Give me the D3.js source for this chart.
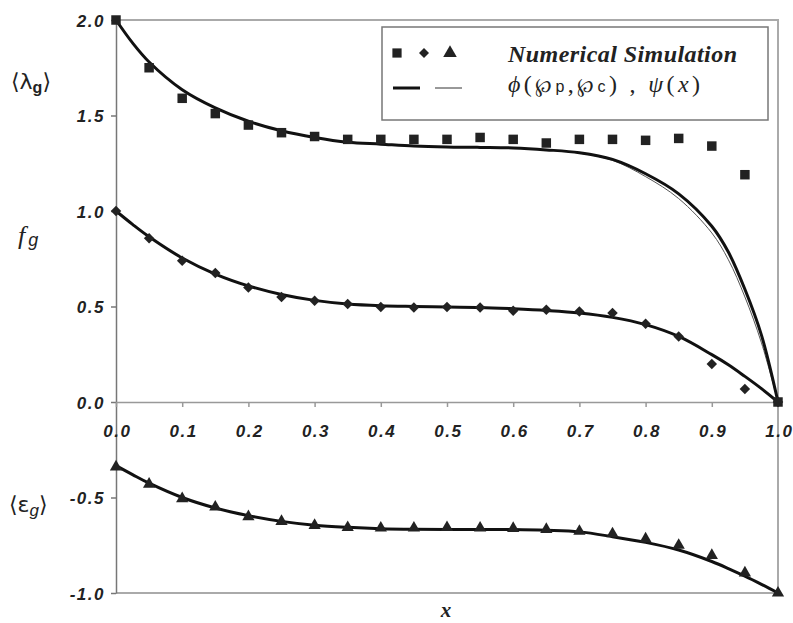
<!DOCTYPE html>
<html>
<head>
<meta charset="utf-8">
<script src="https://cdn.jsdelivr.net/npm/d3@7"></script>
<style>
  body { margin: 0; background: #fff; }
  svg { display: block; }
  .tick text { font-family: "Liberation Sans", Arial, sans-serif; font-weight: bold; font-style: italic; font-size: 17px; fill: #222; letter-spacing: 1.5px; }
</style>
</head>
<body>
<div id="chart"></div>
<script>
// simulation points
var xSim = [0, 0.05, 0.1, 0.15, 0.2, 0.25, 0.3, 0.35, 0.4, 0.45, 0.5, 0.55, 0.6, 0.65, 0.7, 0.75, 0.8, 0.85, 0.9, 0.95, 1.0];
var lambdaSim = [2.0, 1.75, 1.59, 1.51, 1.45, 1.41, 1.39, 1.375, 1.375, 1.375, 1.375, 1.385, 1.375, 1.356, 1.375, 1.375, 1.37, 1.38, 1.34, 1.19, 0];
var fSim = [1.0, 0.857, 0.74, 0.675, 0.60, 0.55, 0.53, 0.513, 0.497, 0.495, 0.497, 0.495, 0.478, 0.483, 0.474, 0.466, 0.41, 0.343, 0.199, 0.068, 0];
var epsSim = [-0.34, -0.43, -0.506, -0.55, -0.60, -0.625, -0.646, -0.657, -0.66, -0.66, -0.657, -0.66, -0.662, -0.667, -0.677, -0.69, -0.717, -0.75, -0.803, -0.895, -1.0];

// model curves
var xFit = [0, 0.025, 0.05, 0.1, 0.15, 0.2, 0.25, 0.3, 0.35, 0.4, 0.45, 0.5, 0.55, 0.6, 0.65, 0.7, 0.75, 0.8, 0.85, 0.9, 0.925, 0.95, 0.975, 1.0];
var lambdaFit = [2.0, 1.88, 1.78, 1.635, 1.54, 1.47, 1.42, 1.385, 1.36, 1.35, 1.34, 1.335, 1.333, 1.33, 1.32, 1.305, 1.27, 1.195, 1.09, 0.92, 0.785, 0.59, 0.35, 0];
var lambdaFitThin = [2.0, 1.88, 1.78, 1.635, 1.54, 1.47, 1.42, 1.385, 1.36, 1.35, 1.34, 1.335, 1.333, 1.33, 1.32, 1.303, 1.265, 1.18, 1.065, 0.885, 0.745, 0.55, 0.31, 0];
var fFit = [1.0, 0.93, 0.865, 0.754, 0.67, 0.608, 0.563, 0.532, 0.513, 0.504, 0.5, 0.497, 0.495, 0.488, 0.479, 0.466, 0.443, 0.405, 0.343, 0.248, 0.195, 0.134, 0.07, 0];
var epsFit = [-0.333, -0.38, -0.425, -0.5, -0.555, -0.595, -0.625, -0.645, -0.656, -0.663, -0.666, -0.667, -0.667, -0.668, -0.672, -0.68, -0.705, -0.735, -0.775, -0.835, -0.872, -0.912, -0.955, -1.0];

var xTicks = [0, 0.1, 0.2, 0.3, 0.4, 0.5, 0.6, 0.7, 0.8, 0.9, 1.0];
var yTicks = [-1.0, -0.5, 0.0, 0.5, 1.0, 1.5, 2.0];

(function() {
  var width = 793, height = 623;
  var plot = {left: 116, right: 778, top: 20, bottom: 593};

  var svg = d3.select("#chart").append("svg")
      .attr("width", width)
      .attr("height", height);

  var x = d3.scaleLinear().domain([0, 1]).range([plot.left, plot.right]);
  var y = d3.scaleLinear().domain([-1, 2]).range([plot.bottom, plot.top]);

  // frame
  svg.append("path")
      .attr("d", "M" + plot.left + "," + plot.top + "H" + plot.right + "V" + plot.bottom + "H" + plot.left)
      .attr("fill", "none")
      .attr("stroke", "#aaa")
      .attr("stroke-width", 2);

  // y axis
  var yAxis = svg.append("g")
      .attr("transform", "translate(" + plot.left + ",0)")
      .call(d3.axisLeft(y).tickValues(yTicks).tickSize(5).tickSizeOuter(0)
        .tickFormat(function(d) { return d.toFixed(1); }));
  yAxis.select(".domain").attr("stroke", "#777").attr("stroke-width", 1.5);
  yAxis.selectAll(".tick line").attr("stroke", "#777").attr("stroke-width", 1.5);
  yAxis.selectAll(".tick text").attr("x", -11).attr("dy", "0.36em");

  // x axis along zero
  var xAxis = svg.append("g")
      .attr("transform", "translate(0," + y(0) + ")")
      .call(d3.axisBottom(x).tickValues(xTicks).tickSize(5).tickSizeOuter(0)
        .tickFormat(function(d) { return d.toFixed(1); }));
  xAxis.select(".domain").attr("stroke", "#999").attr("stroke-width", 1.5);
  xAxis.selectAll(".tick line").attr("stroke", "#999").attr("stroke-width", 1.5);
  xAxis.selectAll(".tick text").attr("y", 23).attr("dy", "0.71em").attr("dx", "0.05em");

  // curves
  var line = d3.line()
      .x(function(d) { return x(d[0]); })
      .y(function(d) { return y(d[1]); })
      .curve(d3.curveCatmullRom.alpha(0.5));

  function pairs(xs, ys) { return xs.map(function(v, i) { return [v, ys[i]]; }); }

  svg.append("path").datum(pairs(xFit, lambdaFitThin))
      .attr("d", line).attr("fill", "none").attr("stroke", "#555").attr("stroke-width", 1);
  [lambdaFit, fFit, epsFit].forEach(function(s) {
    svg.append("path").datum(pairs(xFit, s))
        .attr("d", line).attr("fill", "none").attr("stroke", "#111").attr("stroke-width", 3);
  });

  // markers
  var mark = "#222";
  svg.selectAll(".sq").data(pairs(xSim, lambdaSim)).enter().append("path")
      .attr("class", "sq")
      .attr("transform", function(d) { return "translate(" + x(d[0]) + "," + y(d[1]) + ")"; })
      .attr("d", d3.symbol(d3.symbolSquare, 90))
      .attr("fill", mark);
  svg.selectAll(".dm").data(pairs(xSim, fSim)).enter().append("path")
      .attr("class", "dm")
      .attr("transform", function(d) { return "translate(" + x(d[0]) + "," + y(d[1]) + ") rotate(45)"; })
      .attr("d", d3.symbol(d3.symbolSquare, 55))
      .attr("fill", mark);
  svg.selectAll(".tr").data(pairs(xSim, epsSim)).enter().append("path")
      .attr("class", "tr")
      .attr("transform", function(d) { return "translate(" + x(d[0]) + "," + y(d[1]) + ")"; })
      .attr("d", d3.symbol(d3.symbolTriangle, 65))
      .attr("fill", mark);

  // legend
  var lg = svg.append("g");
  lg.append("rect")
      .attr("x", 382).attr("y", 27).attr("width", 386).attr("height", 93)
      .attr("fill", "#fff").attr("stroke", "#777").attr("stroke-width", 1.5);
  lg.append("path").attr("transform", "translate(397,53)").attr("d", d3.symbol(d3.symbolSquare, 85)).attr("fill", mark);
  lg.append("path").attr("transform", "translate(424,53) rotate(45)").attr("d", d3.symbol(d3.symbolSquare, 50)).attr("fill", mark);
  lg.append("path").attr("transform", "translate(450,53)").attr("d", d3.symbol(d3.symbolTriangle, 80)).attr("fill", mark);
  lg.append("line").attr("x1", 393).attr("x2", 420).attr("y1", 88).attr("y2", 88).attr("stroke", "#111").attr("stroke-width", 3);
  lg.append("line").attr("x1", 435).attr("x2", 462).attr("y1", 88).attr("y2", 88).attr("stroke", "#333").attr("stroke-width", 1);

  lg.append("text")
      .attr("x", 508).attr("y", 62)
      .attr("textLength", 229).attr("lengthAdjust", "spacing")
      .style("font-family", "'Liberation Serif', 'Times New Roman', serif")
      .style("font-weight", "bold").style("font-style", "italic")
      .style("font-size", "24px").style("fill", "#222")
      .text("Numerical Simulation");

  var serif = "'Liberation Serif', 'Times New Roman', serif";
  var sans = "'Liberation Sans', Arial, sans-serif";
  var f2 = lg.append("text")
      .attr("x", 508).attr("y", 92)
      .attr("textLength", 192).attr("lengthAdjust", "spacing")
      .style("font-family", serif)
      .style("font-size", "24px").style("fill", "#222");
  f2.append("tspan").style("font-style", "italic").text("\u03D5");
  f2.append("tspan").text("(");
  f2.append("tspan").style("font-family", "'DejaVu Serif', serif").style("font-size", "20px").text("\u2118");
  f2.append("tspan").style("font-family", sans).style("font-size", "16px").text("p");
  f2.append("tspan").text(",");
  f2.append("tspan").style("font-family", "'DejaVu Serif', serif").style("font-size", "20px").text("\u2118");
  f2.append("tspan").style("font-family", sans).style("font-size", "16px").text("c");
  f2.append("tspan").text(") , ");
  f2.append("tspan").style("font-style", "italic").text("\u03C8");
  f2.append("tspan").text("(");
  f2.append("tspan").style("font-style", "italic").text("x");
  f2.append("tspan").text(")");

  // axis titles
  var lam = svg.append("text").attr("x", 11).attr("y", 89)
      .style("font-family", "'DejaVu Sans', sans-serif").style("font-size", "22px").style("fill", "#222");
  lam.append("tspan").text("\u27E8\u03BB");
  lam.append("tspan").attr("dy", 4).style("font-size", "16px").style("font-family", sans).style("font-weight", "bold").text("g");
  lam.append("tspan").attr("dy", -4).text("\u27E9");

  var fg = svg.append("text").attr("x", 18).attr("y", 244)
      .style("font-family", serif).style("font-style", "italic")
      .style("font-size", "26px").style("fill", "#222");
  fg.append("tspan").text("f");
  fg.append("tspan").attr("dx", 3).attr("dy", 2).style("font-family", sans).style("font-size", "18px").text("g");

  var eps = svg.append("text").attr("x", 9).attr("y", 512)
      .style("font-family", "'DejaVu Sans', sans-serif").style("font-size", "22px").style("fill", "#222");
  eps.append("tspan").text("\u27E8\u03B5");
  eps.append("tspan").attr("dy", 4).style("font-size", "17px").style("font-family", sans).style("font-style", "italic").text("g");
  eps.append("tspan").attr("dy", -4).text("\u27E9");

  svg.append("text").attr("x", 446).attr("y", 617)
      .attr("text-anchor", "middle")
      .style("font-family", serif).style("font-style", "italic").style("font-weight", "bold")
      .style("font-size", "21px").style("fill", "#222")
      .text("x");
})();
</script>
</body>
</html>
